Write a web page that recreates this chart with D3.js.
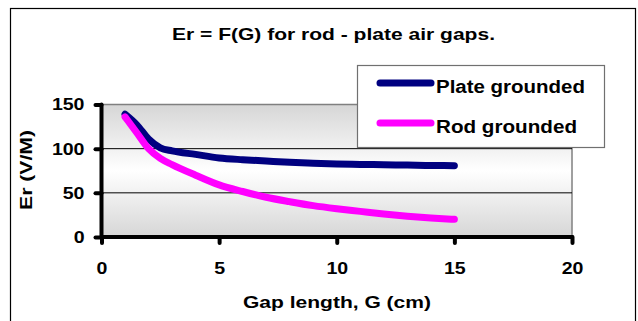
<!DOCTYPE html>
<html>
<head>
<meta charset="utf-8">
<script src="https://cdn.jsdelivr.net/npm/d3@7"></script>
<style>
  html, body { margin: 0; padding: 0; background: #fff; }
  svg { display: block; font-family: "Liberation Sans", Arial, sans-serif; font-weight: bold; }
</style>
</head>
<body>
<svg id="chart" width="638" height="321"></svg>
<script>
// Gap length G (cm)
const gaps = [1, 1.5, 2, 2.5, 3, 4, 5, 6, 7, 8, 9, 10, 11, 12, 13, 14, 15];
// Er (V/M) with the plate grounded
const plateGrounded = [139, 127, 111, 101, 97.5, 93.5, 89.5, 87.5, 86, 84.5, 83.5, 82.7, 82.2, 81.8, 81.4, 81, 80.8];
// Er (V/M) with the rod grounded
const rodGrounded = [136, 118, 100, 89, 82, 70, 59, 51.5, 45, 40, 35.5, 32, 29, 26, 23.5, 21.5, 20];
const xTicks = [0, 5, 10, 15, 20];
const yTicks = [0, 50, 100, 150];
const seriesNames = ["Plate grounded", "Rod grounded"];
const seriesColors = ["#000080", "#ff00ff"];

const FONT = "'Liberation Sans', Arial, sans-serif";
const WIDEN = 1.15; // the lettering is set slightly wide

const svg = d3.select("#chart");

// stretch a text element horizontally to a given length (or by WIDEN)
function widen(sel, len) {
  sel.each(function () {
    const natural = this.getComputedTextLength();
    d3.select(this).attr("textLength", len || natural * WIDEN).attr("lengthAdjust", "spacingAndGlyphs");
  });
}

// outer chart frame
svg.append("rect").attr("x", 10.5).attr("y", 8.5).attr("width", 625).attr("height", 330)
  .attr("fill", "#fff").attr("stroke", "#000").attr("stroke-width", 1.2);

const x = d3.scaleLinear().domain([0, 20]).range([101.5, 572]);
const y = d3.scaleLinear().domain([0, 150]).range([237, 104.5]);

// plot area background: grey at the edges fading to white in the middle
const defs = svg.append("defs");
const grad = defs.append("linearGradient").attr("id", "plotBg")
  .attr("x1", 0).attr("y1", 0).attr("x2", 0).attr("y2", 1);
grad.append("stop").attr("offset", "0%").attr("stop-color", "#d6d6d6");
grad.append("stop").attr("offset", "50%").attr("stop-color", "#ffffff");
grad.append("stop").attr("offset", "100%").attr("stop-color", "#d6d6d6");

svg.append("rect")
  .attr("x", x(0)).attr("y", y(150))
  .attr("width", x(20) - x(0)).attr("height", y(0) - y(150))
  .attr("fill", "url(#plotBg)").attr("stroke", "#808080").attr("stroke-width", 1.5);

// horizontal gridlines
svg.append("g").selectAll("line").data(yTicks.filter(d => d > 0 && d < 150)).join("line")
  .attr("x1", x(0)).attr("x2", x(20))
  .attr("y1", d => y(d)).attr("y2", d => y(d))
  .attr("stroke", "#000").attr("stroke-width", 1);

// axes
const xAxis = svg.append("g").attr("transform", `translate(0,${y(0)})`)
  .call(d3.axisBottom(x).tickValues(xTicks).tickSize(6).tickPadding(19));
const yAxis = svg.append("g").attr("transform", `translate(${x(0)},0)`)
  .call(d3.axisLeft(y).tickValues(yTicks).tickSize(6).tickPadding(11));

[xAxis, yAxis].forEach(g => {
  g.select(".domain").attr("stroke", "#000").attr("stroke-width", 4).attr("stroke-linecap", "round");
  g.selectAll(".tick line").attr("stroke", "#000").attr("stroke-width", 4).attr("stroke-linecap", "round");
  g.selectAll(".tick text").attr("fill", "#000")
    .style("font-size", "17px").style("font-weight", "bold").style("font-family", FONT)
    .call(widen);
});
xAxis.select(".domain").attr("d", `M${x(0)},0H${x(20)}`);
yAxis.select(".domain").attr("d", `M0,${y(0)}V${y(150)}`);

// series lines
const line = d3.line().x(d => x(d[0])).y(d => y(d[1])).curve(d3.curveMonotoneX);
[plateGrounded, rodGrounded].forEach((vals, i) => {
  svg.append("path")
    .datum(gaps.map((g, j) => [g, vals[j]]))
    .attr("d", line)
    .attr("fill", "none").attr("stroke", seriesColors[i])
    .attr("stroke-width", 7).attr("stroke-linecap", "round").attr("stroke-linejoin", "round");
});

// title
svg.append("text").attr("x", 333.5).attr("y", 40).attr("text-anchor", "middle")
  .style("font-size", "16.5px").text("Er = F(G) for rod - plate air gaps.")
  .call(widen, 323);

// axis titles
svg.append("text").attr("x", 337).attr("y", 308).attr("text-anchor", "middle")
  .style("font-size", "17px").text("Gap length, G (cm)")
  .call(widen, 188);
svg.append("text").attr("transform", "translate(32,170) scale(1.15,1) rotate(-90)").attr("text-anchor", "middle")
  .style("font-size", "14px").text("Er (V/M)")
  .call(widen, 80);

// legend
const legend = svg.append("g");
legend.append("rect").attr("x", 357.5).attr("y", 65.5).attr("width", 247).attr("height", 82)
  .attr("fill", "#fff").attr("stroke", "#707070").attr("stroke-width", 1.2);
const legendWidths = [149, 141];
seriesNames.forEach((name, i) => {
  const ly = 83 + i * 40;
  legend.append("line").attr("x1", 380).attr("x2", 431).attr("y1", ly).attr("y2", ly)
    .attr("stroke", seriesColors[i]).attr("stroke-width", 7).attr("stroke-linecap", "round");
  legend.append("text").attr("x", 436).attr("y", ly + 10)
    .style("font-size", "18px").text(name)
    .call(widen, legendWidths[i]);
});
</script>
</body>
</html>
